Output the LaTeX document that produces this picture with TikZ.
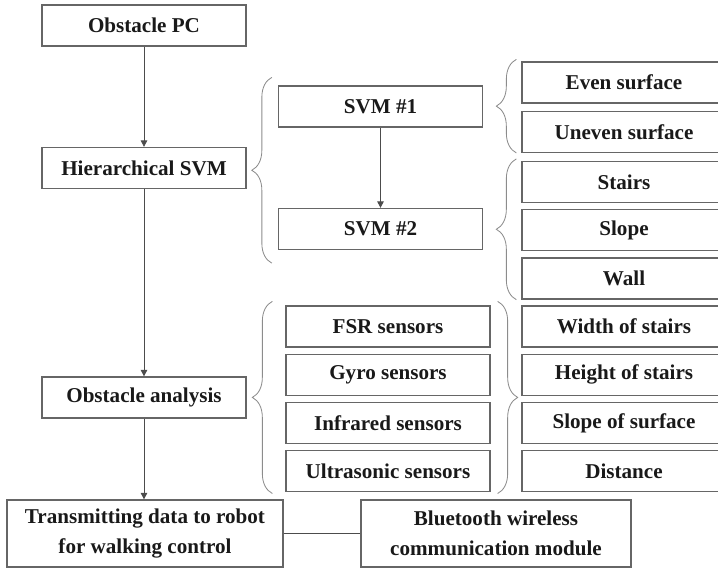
\documentclass[tikz,border=0pt]{standalone}
\usepackage{fontspec}
\setmainfont{Liberation Serif}
\usepackage{tikz}
\usetikzlibrary{arrows.meta, positioning, decorations.pathreplacing}

\begin{document}
\begin{tikzpicture}[x=0.025cm, y=-0.025cm,
    box/.style={rectangle, draw=black!60, line width=0.9pt, text=black!90,
                minimum width=5.1cm, minimum height=1.025cm, inner sep=0pt,
                align=center, font=\fontsize{15}{21}\selectfont\bfseries},
    wide/.style={box, minimum height=1.675cm},
    arrow/.style={-{Triangle[length=1.6mm, width=1.6mm]}, draw=black!70, line width=0.6pt},
    brace/.style={decorate, decoration={brace, amplitude=0.5cm}, draw=black!45, line width=0.6pt}
  ]
  \useasboundingbox (0,0) rectangle (718,568);
  \clip (0,0) rectangle (718,568);

  % main column
  \node[box] (pc)   at (144,25.5)  {Obstacle PC};
  \node[box] (hsvm) at (144,168)   {Hierarchical SVM};
  \node[box] (oa)   at (144,397.5) {Obstacle analysis};
  \node[wide, minimum width=6.9cm]  (tx) at (145,533.5) {Transmitting data to robot\\for walking control};
  \node[wide, minimum width=6.75cm] (bt) at (496,533.5) {Bluetooth wireless\\communication module};

  % classifiers
  \node[box] (svm1) at (380.5,106.5) {SVM \#1};
  \node[box] (svm2) at (380.5,229)   {SVM \#2};

  % surface classes
  \node[box] (even) at (624,82.5) {Even surface};
  \node[box, below=0.175cm of even] (uneven) {Uneven surface};
  \node[box] (stairs) at (624,182) {Stairs};
  \node[box, below=0.15cm of stairs] (slope) {Slope};
  \node[box, below=0.15cm of slope]  (wall)  {Wall};

  % sensors
  \node[box] (fsr) at (388,326.5) {FSR sensors};
  \node[box, below=0.15cm of fsr]   (gyro)  {Gyro sensors};
  \node[box, below=0.15cm of gyro]  (ir)    {Infrared sensors};
  \node[box, below=0.15cm of ir]    (us)    {Ultrasonic sensors};

  % measured values
  \node[box] (wst) at (624,326.5) {Width of stairs};
  \node[box, below=0.15cm of wst]   (hst)   {Height of stairs};
  \node[box, below=0.15cm of hst]   (ssurf) {Slope of surface};
  \node[box, below=0.15cm of ssurf] (dist)  {Distance};

  \draw[arrow] (pc) -- (hsvm);
  \draw[arrow] (hsvm) -- (oa);
  \draw[arrow] (oa.south) -- (oa.south |- tx.north);
  \draw[arrow] (svm1) -- (svm2);
  \draw[draw=black!70, line width=0.6pt] (tx) -- (bt);

  % braces
  \draw[brace] ([shift={(-6,13)}]svm2.south west) -- ([shift={(-6,-8)}]svm1.north west);
  \draw[brace] ([shift={(-5,0)}]uneven.south west) -- ([shift={(-5,-2)}]even.north west);
  \draw[brace] ([shift={(-5,0)}]wall.south west) -- ([shift={(-5,-2)}]stairs.north west);
  \draw[brace] ([shift={(-13,1)}]us.south west) -- ([shift={(-13,-4)}]fsr.north west);
  \draw[brace] ([shift={(7,-4)}]fsr.north east) -- ([shift={(7,1)}]us.south east);
\end{tikzpicture}
\end{document}
